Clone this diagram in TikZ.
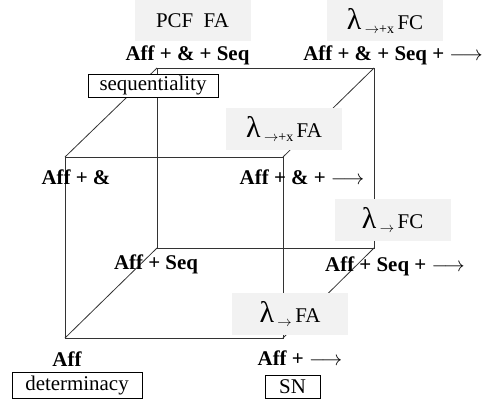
\documentclass[tikz,border=0pt]{standalone}
\usepackage{fontspec}
\setmainfont{Liberation Serif}
\usetikzlibrary{positioning}

% lambda calculus name: lambda, small subscript, fragment
\newcommand{\lamlabel}[2]{{\fontsize{30}{30}\selectfont λ}\,\raisebox{-4bp}{\fontsize{14}{14}\selectfont$\rightarrow$#1}\,#2}

\begin{document}
\begin{tikzpicture}[x=1bp, y=-1bp,
  every node/.style={font=\fontsize{21}{24}\selectfont},
  edge/.style={draw=black!80, line width=0.8bp},
  calcbox/.style={fill=black!5, minimum width=116bp, minimum height=42bp, inner sep=0pt},
  logic/.style={font=\fontsize{21}{24}\selectfont\bfseries, inner sep=0pt},
  propbox/.style={draw, fill=white, line width=0.8bp, inner sep=0pt, minimum height=24bp}
]
\useasboundingbox (0,0) rectangle (483,405);

% cube corners
\coordinate (ftl) at (65,157);
\coordinate (ftr) at (283,157);
\coordinate (fbl) at (65,338);
\coordinate (fbr) at (283,338);
\coordinate (btl) at (157,68);
\coordinate (btr) at (374,68);
\coordinate (bbl) at (157,248);
\coordinate (bbr) at (374,248);

\draw[edge] (ftl)--(ftr)--(fbr)--(fbl)--cycle;
\draw[edge] (btl)--(btr)--(bbr)--(bbl)--cycle;
\draw[edge] (ftl)--(btl);
\draw[edge] (ftr)--(btr);
\draw[edge] (fbl)--(bbl);
\draw[edge] (fbr)--(bbr);

% calculi
\node[calcbox, minimum height=41bp] (pcf) at (192.5,20.5) {PCF\ \ FA};
\node[calcbox, minimum height=41bp] (lamxfc) at (385,20.5) {\lamlabel{+x}{FC}};
\node[calcbox] (lamxfa) at (284,128.5) {\lamlabel{+x}{FA}};
\node[calcbox] (lamfc) at (392.5,219.5) {\lamlabel{}{FC}};
\node[calcbox] (lamfa) at (290,314) {\lamlabel{}{FA}};

% languages at the corners
\node[logic] (affandseq) at (187.5,55) {Aff + \& + Seq};
\node[logic] (affandseqarr) at (393,55) {Aff + \& + Seq + $\longrightarrow$};
\node[logic] (affand) at (76,177) {Aff + \&};
\node[logic] (affandarr) at (302,177) {Aff + \& + $\longrightarrow$};
\node[logic] (affseq) at (156,264) {Aff + Seq};
\node[logic] (affseqarr) at (395,266) {Aff + Seq + $\longrightarrow$};
\node[logic] (aff) at (67,359) {Aff};
\node[logic] (affarr) at (300,358) {Aff + $\longrightarrow$};

% properties
\node[propbox, minimum width=130bp, minimum height=23bp] (seqbox) at (153,85.5) {sequentiality};
\node[propbox, minimum width=130bp, minimum height=26bp] (detbox) at (77,385) {determinacy};
\node[propbox, minimum width=55bp, minimum height=23bp] (snbox) at (292.5,386.5) {SN};
\end{tikzpicture}
\end{document}
